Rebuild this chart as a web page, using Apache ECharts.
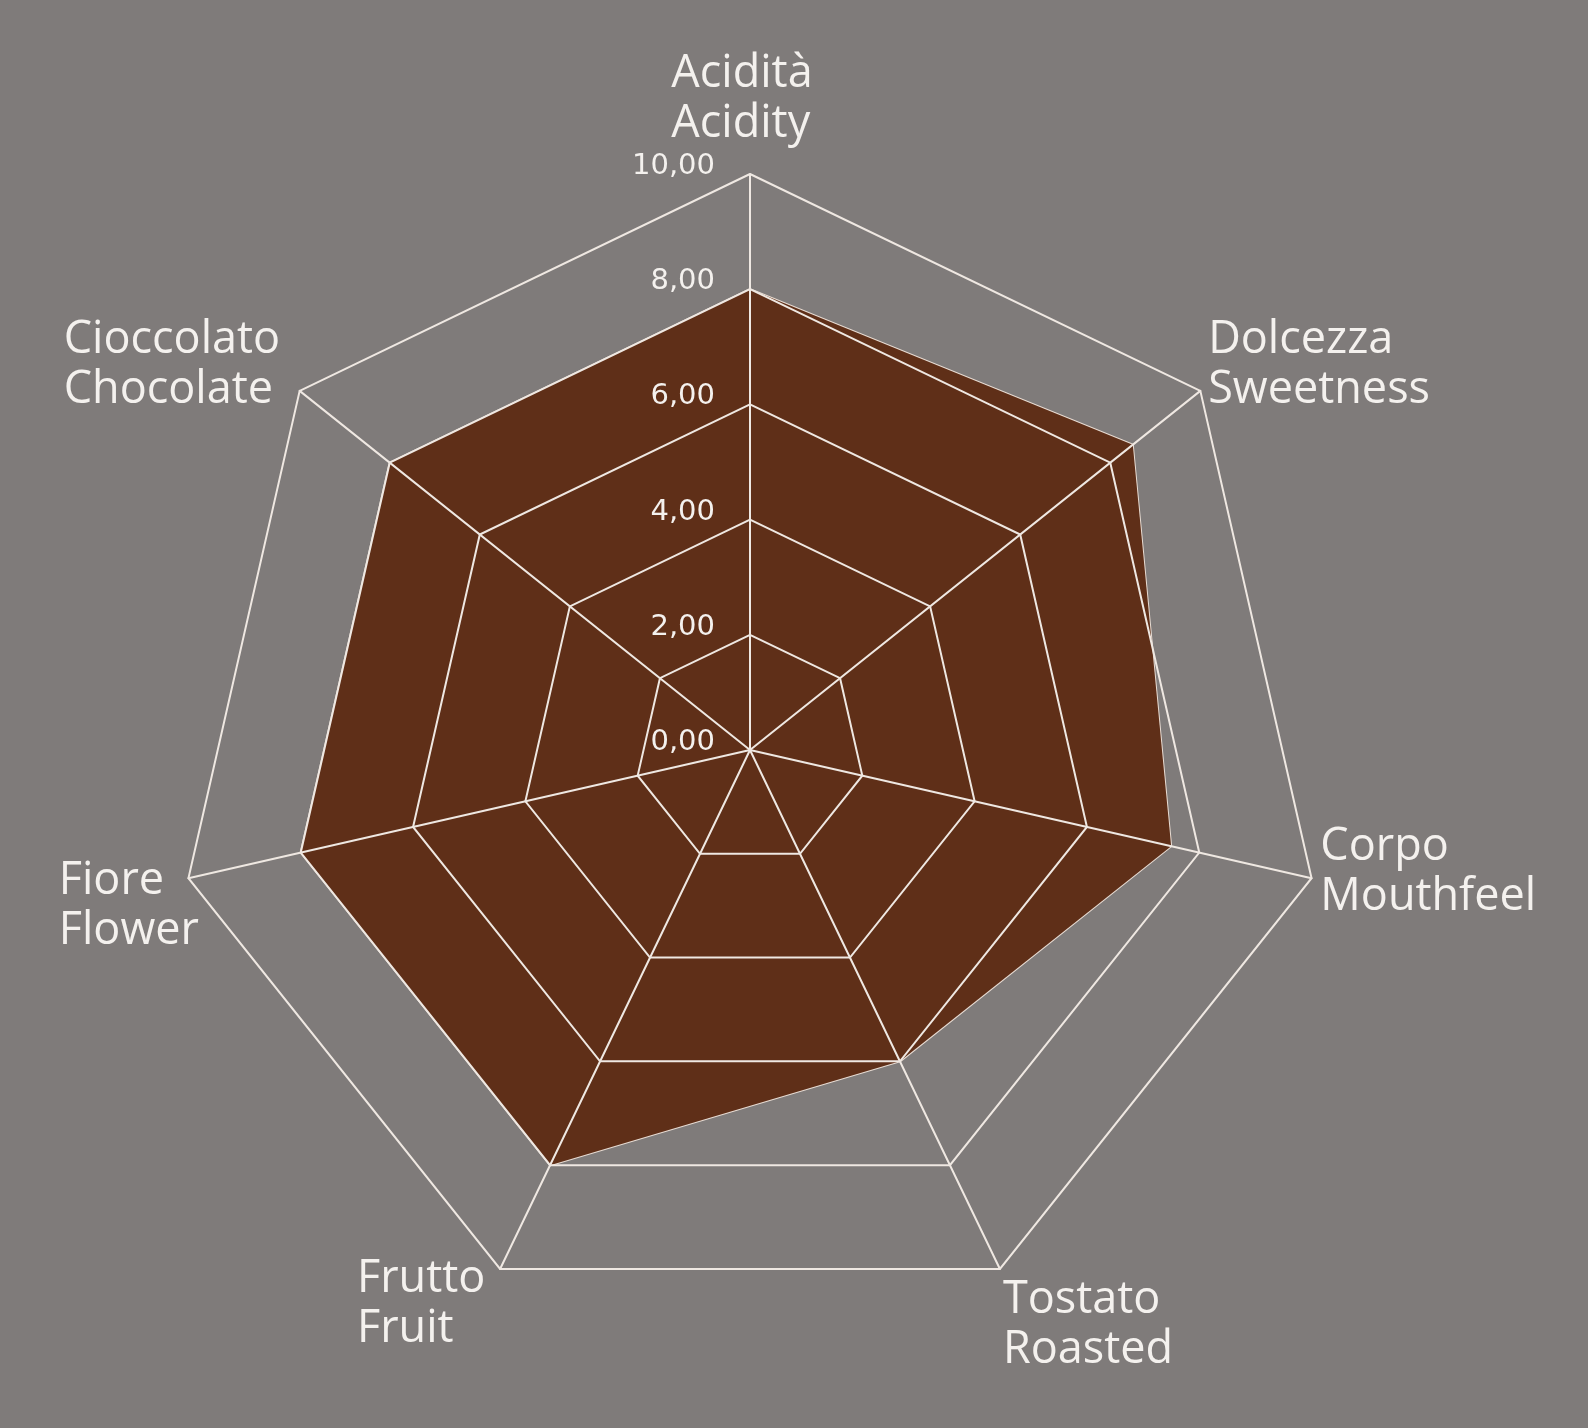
<!DOCTYPE html>
<html>
<head>
<meta charset="utf-8">
<script src="https://cdn.jsdelivr.net/npm/echarts@6/dist/echarts.min.js"></script>
<style>
html,body{margin:0;padding:0;background:#7f7b7a;}
#c{width:1588px;height:1428px;}
</style>
</head>
<body>
<div id="c"></div>
<script>
// Data (clockwise order from the top, as in the picture)
const namesIt = ['Acidità', 'Dolcezza', 'Corpo', 'Tostato', 'Frutto', 'Fiore', 'Cioccolato'];
const namesEn = ['Acidity', 'Sweetness', 'Mouthfeel', 'Roasted', 'Fruit', 'Flower', 'Chocolate'];
const values = [8.0, 8.5, 7.5, 6.0, 8.0, 8.0, 8.0];
const axisMin = 0;
const axisMax = 10;
const axisStep = 2;

// label placement styles per indicator (same order as above)
const nameGaps = [24.5, 10, 9, 7, 34, 133, 25];
const nameStyles = [
  { align: 'center', verticalAlign: 'bottom', padding: [0, 16, 0, 0] },
  { align: 'left', verticalAlign: 'middle', padding: [0, 0, 39, 0] },
  { align: 'left', verticalAlign: 'middle', padding: [0, 0, 16, 0] },
  { align: 'left', verticalAlign: 'top', padding: [0, 0, 0, 0] },
  { align: 'right', verticalAlign: 'middle', padding: [10, 0, 0, 0] },
  { align: 'left', verticalAlign: 'middle', padding: [0, 0, 3, 0] },
  { align: 'right', verticalAlign: 'middle', padding: [0, 0, 21, 0] }
];

// ECharts radar runs counter-clockwise: reorder so the picture reads clockwise
const order = [0, 6, 5, 4, 3, 2, 1];
const indicator = order.map(i => ({
  name: namesIt[i] + '\n' + namesEn[i],
  min: axisMin,
  max: axisMax,
  nameGap: nameGaps[i],
  nameTextStyle: nameStyles[i],
  axisLabel: { show: i === 0 }
}));
const orderedValues = order.map(i => values[i]);

const chart = echarts.init(document.getElementById('c'));
chart.setOption({
  backgroundColor: '#7f7b7a',
  animation: false,
  radar: {
    z: 5,
    center: [750, 750],
    radius: 576,
    startAngle: 90,
    splitNumber: (axisMax - axisMin) / axisStep,
    shape: 'polygon',
    indicator: indicator,
    axisName: {
      color: '#f4f1ee',
      fontFamily: 'Open Sans',
      fontSize: 45,
      lineHeight: 50,
      formatter: function (name) {
        return name.split('\n').map(s => '{l|' + s + '}').join('\n');
      },
      rich: {
        l: { align: 'left', color: '#f4f1ee', fontFamily: 'Open Sans', fontSize: 45, lineHeight: 50 }
      }
    },
    axisLabel: {
      show: true,
      color: '#f4f1ee',
      fontFamily: 'DejaVu Sans',
      fontSize: 29,
      lineHeight: 15,
      margin: 35,
      align: 'right',
      verticalAlign: 'bottom',
      formatter: function (v) { return v.toFixed(2).replace('.', ','); }
    },
    axisTick: { show: false },
    axisLine: { show: true, lineStyle: { color: '#efe8e2', width: 2 } },
    splitLine: { show: true, lineStyle: { color: '#efe8e2', width: 2 } },
    splitArea: { show: false }
  },
  series: [{
    type: 'radar',
    z: 2,
    symbol: 'none',
    lineStyle: { color: '#e8dcd3', width: 2 },
    areaStyle: { color: '#5f2f18', opacity: 1 },
    data: [{ value: orderedValues }]
  }]
});
</script>
</body>
</html>
